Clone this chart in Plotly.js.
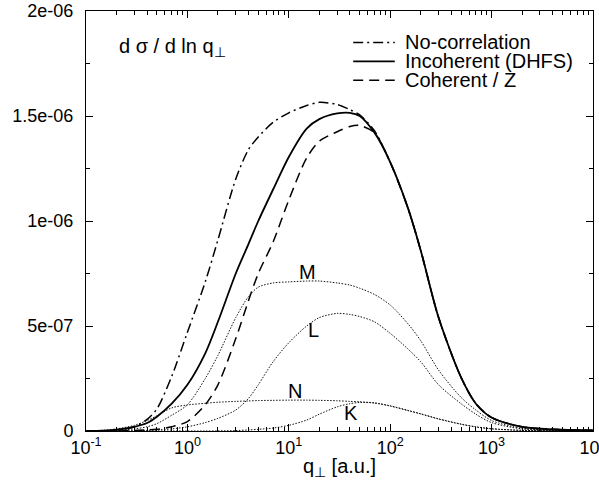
<!DOCTYPE html>
<html><head><meta charset="utf-8">
<script src="https://cdn.plot.ly/plotly-3.0.1.min.js"></script>
<style>html,body{margin:0;padding:0;background:#fff;}#chart{width:599px;height:487px;}</style>
</head><body><div id="chart"></div>
<script>
// q_perp grid [a.u.]
const qPerp = [0.1,0.15,0.2,0.3,0.4,0.5,0.7,1,1.5,2,3,4,5,7,10,15,20,30,40,50,70,100,150,200,300,500,700,1000,2000,5000,10000];
// values in units of 1e-7
const noCorrelation = [0,0.01,0.04,0.2,0.55,1.05,2.6,4.7,7.1,9.1,12.0,13.4,14.0,14.7,15.15,15.5,15.65,15.55,15.3,15.05,14.3,12.8,10.6,8.6,5.4,2.55,1.3,0.64,0.2,0.06,0.03];
const incoherent    = [0,0.02,0.06,0.2,0.38,0.68,1.3,2.2,3.7,5.2,7.5,8.9,10.0,11.5,13.05,14.4,14.85,15.12,15.15,15.0,14.2,12.8,10.6,8.6,5.4,2.55,1.3,0.64,0.2,0.06,0.03];
const coherent      = [0,0.002,0.005,0.02,0.05,0.08,0.2,0.45,1.25,2.2,4.4,6.2,7.5,9.0,11.0,13.0,13.8,14.25,14.5,14.55,14.2,12.8,10.6,8.6,5.4,2.55,1.3,0.64,0.2,0.06,0.03];
const shellM = [0,0.01,0.03,0.1,0.2,0.35,0.75,1.25,2.5,3.6,5.4,6.4,6.85,7.05,7.1,7.14,7.14,7.05,6.95,6.8,6.5,6.0,5.1,4.3,2.9,1.6,1.0,0.5,0.13,0.03,0.01];
const shellL = [0,0,0.005,0.01,0.03,0.05,0.1,0.2,0.4,0.6,1.0,1.55,2.2,3.3,4.2,5.0,5.4,5.6,5.55,5.45,5.2,4.65,3.9,3.3,2.2,1.3,0.8,0.4,0.1,0.02,0.01];
const shellN = [0.01,0.04,0.1,0.27,0.5,0.72,1.1,1.24,1.32,1.37,1.41,1.43,1.45,1.46,1.47,1.47,1.46,1.44,1.41,1.39,1.33,1.2,0.98,0.82,0.58,0.33,0.2,0.11,0.03,0.01,0];
const shellK = [0,0,0,0,0,0,0,0,0,0.005,0.02,0.05,0.08,0.14,0.27,0.52,0.8,1.15,1.3,1.36,1.34,1.19,0.97,0.81,0.57,0.32,0.19,0.1,0.03,0.005,0];
const UNIT = 1e-7;

const xTickVals = [0.1,1,10,100,1000,10000];
const xTickText = ['10<sup>-1</sup>','10<sup>0</sup>','10<sup>1</sup>','10<sup>2</sup>','10<sup>3</sup>','10<sup>4</sup>'];
const yTickVals = [0,5e-7,1e-6,1.5e-6,2e-6];
const yTickText = ['0','5e-07','1e-06','1.5e-06','2e-06'];
const yMinorVals = [2.5e-7,7.5e-7,1.25e-6,1.75e-6];
const xMinorVals = [];
for (let d = -1; d < 4; d++) for (let m = 2; m <= 9; m++) xMinorVals.push(m * Math.pow(10, d));

const legendNames = ['No-correlation','Incoherent (DHFS)','Coherent / Z'];
const shellLabels = ['M','L','N','K'];

const FONT = 'Liberation Sans, Arial, Helvetica, sans-serif';
const toY = a => a.map(v => v * UNIT);
function tr(y, dash, width, color) {
  return {x: qPerp, y: toY(y), type: 'scatter', mode: 'lines',
    line: {color: color || '#000', width: width, dash: dash, shape: 'spline', smoothing: 0.8},
    showlegend: false, hoverinfo: 'skip'};
}
const dotDash = '1.5px,1.5px';
const traces = [
  tr(shellM, dotDash, 1, '#111'),
  tr(shellL, dotDash, 1, '#111'),
  tr(shellN, dotDash, 1, '#111'),
  tr(shellK, dotDash, 1, '#111'),
  tr(noCorrelation, '10px,4px,2px,4px', 1.5),
  tr(coherent, '10px,6px', 1.5),
  tr(incoherent, 'solid', 1.8),
];

const legendDash = ['10px,4px,2px,4px','solid','10px,6px'];
const legendY = [0.925, 0.880, 0.835];
const shapes = legendNames.map((n, i) => ({type: 'line', xref: 'paper', yref: 'paper',
  x0: 0.527, x1: 0.609, y0: legendY[i], y1: legendY[i],
  line: {color: '#000', width: i === 1 ? 1.8 : 1.5, dash: legendDash[i]}}));
const annotations = legendNames.map((n, i) => ({xref: 'paper', yref: 'paper', x: 0.628, y: legendY[i],
  xanchor: 'left', yanchor: 'middle', text: n, showarrow: false, borderpad: 0,
  font: {family: FONT, size: 20, color: '#000'}}));
annotations.push({xref: 'paper', yref: 'paper', x: 0.062, y: 0.914, xanchor: 'left', yanchor: 'middle',
  text: 'd σ / d ln q<sub>⊥</sub>', showarrow: false, font: {family: FONT, size: 20, color: '#000'}});
const labelPos = [[1.18, 7.57], [1.24, 4.81], [1.06, 1.90], [1.61, 0.86]];
shellLabels.forEach((t, i) => annotations.push({xref: 'x', yref: 'y', x: labelPos[i][0], y: labelPos[i][1] * UNIT,
  text: t, showarrow: false, xanchor: 'center', yanchor: 'middle', font: {family: FONT, size: 20, color: '#000'}}));

const layout = {
  width: 599, height: 487,
  margin: {l: 86, r: 6, t: 11, b: 56},
  paper_bgcolor: '#fff', plot_bgcolor: '#fff',
  font: {family: FONT, size: 18, color: '#000'},
  showlegend: false,
  xaxis: {type: 'log', range: [-1, 4], tickmode: 'array', tickvals: xTickVals, ticktext: xTickText,
    ticks: 'inside', ticklen: 7, tickcolor: '#000', showgrid: false, zeroline: false,
    showline: true, linecolor: '#000', linewidth: 1, mirror: 'ticks', ticklabeloverflow: 'allow',
    minor: {tickmode: 'array', tickvals: xMinorVals, ticks: 'inside', ticklen: 4, tickcolor: '#000', showgrid: false},
    tickfont: {family: FONT, size: 18}, ticklabelstandoff: 0,
    title: {text: 'q<sub>⊥</sub> [a.u.]', font: {family: FONT, size: 20}, standoff: 2}},
  yaxis: {range: [0, 2e-6], tickmode: 'array', tickvals: yTickVals, ticktext: yTickText,
    ticks: 'inside', ticklen: 7, tickcolor: '#000', showgrid: false, zeroline: false,
    showline: true, linecolor: '#000', linewidth: 1, mirror: 'ticks',
    minor: {tickmode: 'array', tickvals: yMinorVals, ticks: 'inside', ticklen: 4, tickcolor: '#000', showgrid: false},
    tickfont: {family: FONT, size: 18}, ticklabelstandoff: 8},
  shapes: shapes,
  annotations: annotations
};
Plotly.newPlot('chart', traces, layout, {staticPlot: true, displayModeBar: false});
</script></body></html>
